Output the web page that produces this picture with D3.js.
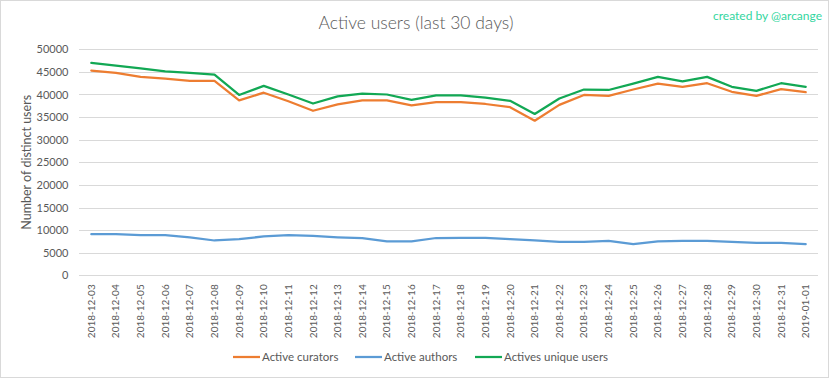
<!DOCTYPE html>
<html>
<head>
<meta charset="utf-8">
<script src="https://cdn.jsdelivr.net/npm/d3@7"></script>
<style>
  html, body { margin: 0; padding: 0; background: #fff; }
  svg { display: block; }
  text { font-family: Lato, "Open Sans", sans-serif; }
</style>
</head>
<body>
<div id="chart"></div>
<script>
const dates = ["2018-12-03","2018-12-04","2018-12-05","2018-12-06","2018-12-07","2018-12-08","2018-12-09","2018-12-10","2018-12-11","2018-12-12","2018-12-13","2018-12-14","2018-12-15","2018-12-16","2018-12-17","2018-12-18","2018-12-19","2018-12-20","2018-12-21","2018-12-22","2018-12-23","2018-12-24","2018-12-25","2018-12-26","2018-12-27","2018-12-28","2018-12-29","2018-12-30","2018-12-31","2019-01-01"];
const curators = [45300,44800,43900,43500,43000,43000,38700,40400,38500,36400,37800,38700,38700,37600,38300,38300,37900,37200,34200,37700,39900,39700,41100,42400,41700,42500,40600,39700,41200,40500];
const authors  = [9100,9100,8900,8900,8400,7700,8000,8600,8900,8700,8400,8200,7500,7500,8250,8300,8300,8000,7750,7400,7400,7600,6900,7500,7600,7600,7400,7150,7150,6900];
const uniques  = [47000,46400,45800,45100,44800,44400,39900,41900,40000,38000,39600,40200,40000,38800,39800,39800,39300,38600,35700,39100,41100,41000,42400,43900,42900,43900,41700,40800,42500,41700];
const yTicks = [0,5000,10000,15000,20000,25000,30000,35000,40000,45000,50000];
const seriesNames = ["Active curators","Active authors","Actives unique users"];
const seriesColors = ["#ED7D31","#5B9BD5","#12A854"];
const titleText = "Active users (last 30 days)";
const creditText = "created by @arcange";
const yTitle = "Number of distinct users";

const W = 833, H = 379;
const svg = d3.select("#chart").append("svg").attr("width", W).attr("height", H);

// border
svg.append("rect").attr("x", 0.5).attr("y", 0.5).attr("width", 828).attr("height", 377)
  .attr("fill", "#fff").attr("stroke", "#d9d9d9");

const mLeft = 79, mRight = 818, mTop = 49.3, mBottom = 275.3;
const x = d3.scaleBand().domain(dates).range([mLeft, mRight]);
const y = d3.scaleLinear().domain([0, 50000]).range([mBottom, mTop]);

// gridlines
svg.append("g").selectAll("line").data(yTicks).join("line")
  .attr("x1", mLeft).attr("x2", mRight)
  .attr("y1", d => Math.round(y(d)) + 0.5).attr("y2", d => Math.round(y(d)) + 0.5)
  .attr("stroke", "#d9d9d9").attr("stroke-width", 1);

// y axis labels
const yAxis = d3.axisLeft(y).tickValues(yTicks).tickSize(0).tickPadding(0).tickFormat(d => String(d));
const gy = svg.append("g").attr("transform", `translate(${68.5},0)`).call(yAxis);
gy.select(".domain").remove();
gy.selectAll("text").attr("fill", "#595959").style("font-size", "11px").style("font-family", "Lato, sans-serif");

// x axis labels
const xAxis = d3.axisBottom(x).tickSize(0).tickPadding(0);
const gx = svg.append("g").attr("transform", `translate(0,${mBottom})`).call(xAxis);
gx.select(".domain").remove();
gx.selectAll("text")
  .attr("fill", "#595959").style("font-size", "10px").style("font-family", "Lato, sans-serif")
  .attr("text-anchor", "end").attr("dy", "0.35em")
  .attr("transform", "translate(0,9) rotate(-90)")
  .attr("x", 0).attr("y", 0);

// lines
const series = [curators, authors, uniques];
const line = d3.line().x((d, i) => x(dates[i]) + x.bandwidth() / 2).y(d => y(d));
series.forEach((s, k) => {
  svg.append("path").datum(s).attr("d", line)
    .attr("fill", "none").attr("stroke", seriesColors[k])
    .attr("stroke-width", 2.25).attr("stroke-linejoin", "round").attr("stroke-linecap", "round");
});

// title
svg.append("text").attr("x", 416).attr("y", 29).attr("text-anchor", "middle")
  .attr("fill", "#595959").style("font-size", "17.5px").style("font-weight", 300).text(titleText);

// credit
svg.append("text").attr("x", 822).attr("y", 20).attr("text-anchor", "end")
  .attr("fill", "#33D6A0").style("font-size", "12px").text(creditText);

// y title
svg.append("text").attr("transform", `translate(31,${(mTop + mBottom) / 2}) rotate(-90)`)
  .attr("text-anchor", "middle").attr("fill", "#595959").style("font-size", "12.5px").text(yTitle);

// legend
const legendX = [233, 355, 475];
const lg = svg.append("g");
seriesNames.forEach((n, k) => {
  lg.append("line").attr("x1", legendX[k]).attr("x2", legendX[k] + 27)
    .attr("y1", 357).attr("y2", 357).attr("stroke", seriesColors[k]).attr("stroke-width", 2.25);
  lg.append("text").attr("x", legendX[k] + 29).attr("y", 361)
    .attr("fill", "#595959").style("font-size", "11.5px").text(n);
});
</script>
</body>
</html>
